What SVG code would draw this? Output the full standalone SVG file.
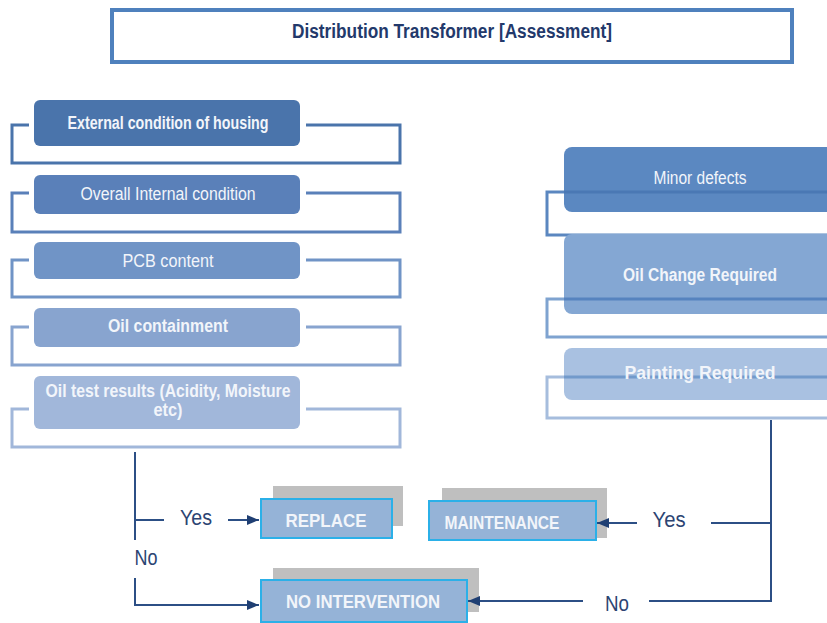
<svg xmlns="http://www.w3.org/2000/svg" width="827" height="623" viewBox="0 0 827 623">
<style>
.bt{font-family:"Liberation Sans Narrow","Liberation Sans",Arial,sans-serif;fill:#f2f5fa;text-anchor:middle}
.b{font-weight:bold}
.br{fill:none;stroke-width:3}
.conn{fill:none;stroke:#2c4f85;stroke-width:2}
.lbl{font-family:"Liberation Sans Narrow","Liberation Sans",Arial,sans-serif;fill:#2c4472;font-size:22px;text-anchor:middle}
.act{fill:#95b3d7;stroke:#2bb0e8;stroke-width:2}
.sh{fill:#bfbfbf}
</style>
<defs>
<marker id="ah" markerWidth="12" markerHeight="10" refX="12" refY="5" orient="auto" markerUnits="userSpaceOnUse">
<path d="M0,0 L12,5 L0,10 Z" fill="#1f3f73"/>
</marker>
</defs>
<rect width="827" height="623" fill="#ffffff"/>

<g id="title">
<rect x="112" y="10" width="680" height="52" fill="#ffffff" stroke="#4f81bd" stroke-width="4"/>
<text x="452" y="38" font-family="'Liberation Sans Narrow','Liberation Sans',Arial,sans-serif" font-size="19.5" font-weight="bold" fill="#23396b" text-anchor="middle" textLength="320" lengthAdjust="spacingAndGlyphs">Distribution Transformer [Assessment]</text>
</g>

<g id="external-housing">
<path class="br" stroke="#4a74ab" d="M29 125 H12 V163 H400 V125 H306"/>
<rect x="34" y="100" width="266" height="46" rx="6" fill="#4a74ab"/>
<text class="bt b" x="168" y="128.5" font-size="17.5" textLength="201" lengthAdjust="spacingAndGlyphs">External condition of housing</text>
</g>

<g id="internal-condition">
<path class="br" stroke="#5a80b9" d="M29 193 H12 V232 H400 V193 H306"/>
<rect x="34" y="175" width="266" height="39" rx="6" fill="#5a80b9"/>
<text class="bt" x="168" y="199.5" font-size="17.5" textLength="175" lengthAdjust="spacingAndGlyphs">Overall Internal condition</text>
</g>

<g id="pcb-content">
<path class="br" stroke="#7094c6" d="M29 260 H12 V297 H400 V260 H306"/>
<rect x="34" y="242" width="266" height="37" rx="6" fill="#7094c6"/>
<text class="bt" x="168" y="267" font-size="17.5" textLength="91" lengthAdjust="spacingAndGlyphs">PCB content</text>
</g>

<g id="oil-containment">
<path class="br" stroke="#88a4cf" d="M29 327 H12 V365 H400 V327 H306"/>
<rect x="34" y="308" width="266" height="39" rx="6" fill="#88a4cf"/>
<text class="bt b" x="168" y="331.5" font-size="17.5" textLength="120" lengthAdjust="spacingAndGlyphs">Oil containment</text>
</g>

<g id="oil-test">
<path class="br" stroke="#a1b7da" d="M29 409 H12 V447 H400 V409 H306"/>
<rect x="34" y="376" width="266" height="53" rx="6" fill="#a1b7da"/>
<text class="bt b" x="168" y="397" font-size="17.5" textLength="245" lengthAdjust="spacingAndGlyphs">Oil test results (Acidity, Moisture</text>
<text class="bt b" x="168" y="416" font-size="17.5" textLength="29" lengthAdjust="spacingAndGlyphs">etc)</text>
</g>

<g id="minor-defects">
<path class="br" stroke="#5b87c0" d="M564 192 H547 V235 H840"/>
<rect x="564" y="147" width="280" height="65" rx="8" fill="#5b88c1"/>
<line x1="564" y1="192" x2="840" y2="192" stroke="#4a78b4" stroke-width="3"/>
<text class="bt" x="700" y="183.5" font-size="17.5" textLength="93" lengthAdjust="spacingAndGlyphs">Minor defects</text>
</g>

<g id="oil-change">
<path class="br" stroke="#7fa3d0" d="M564 299 H547 V337 H840"/>
<rect x="564" y="234" width="280" height="80" rx="8" fill="#84a7d3"/>
<line x1="564" y1="299" x2="840" y2="299" stroke="#5683bf" stroke-width="3"/>
<text class="bt b" x="700" y="280.5" font-size="17.5" textLength="154" lengthAdjust="spacingAndGlyphs">Oil Change Required</text>
</g>

<g id="painting">
<path class="br" stroke="#a6bddd" d="M564 377 H547 V418 H840"/>
<rect x="564" y="348" width="280" height="52" rx="8" fill="#a9c1e1"/>
<line x1="564" y1="377" x2="840" y2="377" stroke="#729acb" stroke-width="3"/>
<text class="bt b" x="700" y="378.5" font-size="17.5" textLength="151" lengthAdjust="spacingAndGlyphs">Painting Required</text>
</g>

<g id="replace">
<rect class="sh" x="273" y="486" width="130" height="40"/>
<rect class="act" x="261" y="499" width="131" height="39"/>
<text class="bt b" x="326" y="527" font-size="18.5" textLength="81" lengthAdjust="spacingAndGlyphs">REPLACE</text>
</g>

<g id="maintenance">
<rect class="sh" x="442" y="488" width="165" height="50"/>
<rect class="act" x="429" y="501" width="167" height="39"/>
<text class="bt b" x="502" y="528.5" font-size="18.5" textLength="115" lengthAdjust="spacingAndGlyphs">MAINTENANCE</text>
</g>

<g id="no-intervention">
<rect class="sh" x="273" y="568" width="206" height="44"/>
<rect class="act" x="261" y="580" width="206" height="42"/>
<text class="bt b" x="363" y="607.5" font-size="18.5" textLength="154" lengthAdjust="spacingAndGlyphs">NO INTERVENTION</text>
</g>

<g id="connectors">
<path class="conn" d="M135 452 V540"/>
<path class="conn" d="M135 520 H164"/>
<path class="conn" d="M228 520 H259" marker-end="url(#ah)"/>
<path class="conn" d="M135 578 V605 H259" marker-end="url(#ah)"/>
<path class="conn" d="M771 420 V601 H649"/>
<path class="conn" d="M583 601 H468" marker-end="url(#ah)"/>
<path class="conn" d="M771 523 H711"/>
<path class="conn" d="M637 523 H597" marker-end="url(#ah)"/>
<text class="lbl" x="196" y="525" textLength="32" lengthAdjust="spacingAndGlyphs">Yes</text>
<text class="lbl" x="146" y="565" textLength="23" lengthAdjust="spacingAndGlyphs">No</text>
<text class="lbl" x="669" y="527" textLength="33" lengthAdjust="spacingAndGlyphs">Yes</text>
<text class="lbl" x="617" y="611" textLength="24" lengthAdjust="spacingAndGlyphs">No</text>
</g>
</svg>
